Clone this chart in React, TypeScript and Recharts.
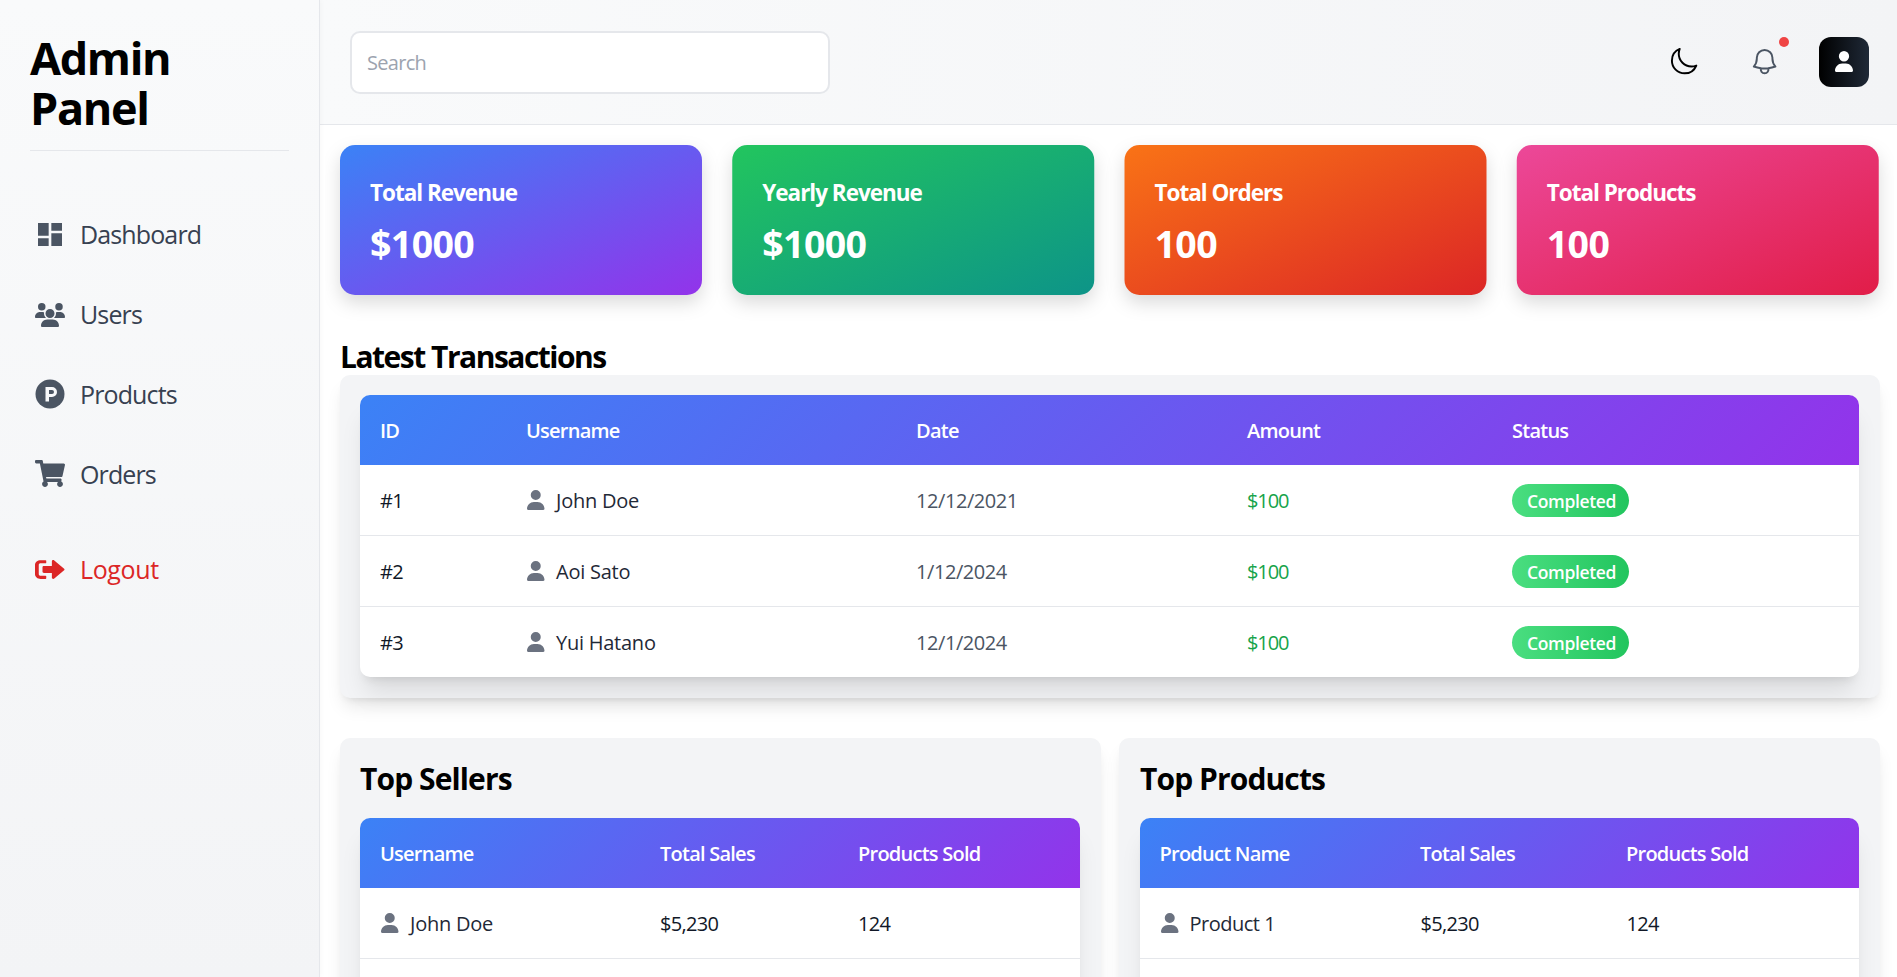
import { BarChart, Bar, XAxis, YAxis, Rectangle } from 'recharts'

const statLabels = ['Total Revenue', 'Yearly Revenue', 'Total Orders', 'Total Products']
const statValues = ['$1000', '$1000', '100', '100']
const statTiles = [1, 1, 1, 1]
const statData = statLabels.map((label, i) => ({ label, value: statValues[i], tile: statTiles[i] }))
const statGradients = [
  ['#3b82f6', '#9333ea'],
  ['#22c55e', '#0d9488'],
  ['#f97316', '#dc2626'],
  ['#ec4899', '#e11d48'],
]

const navItems = ['Dashboard', 'Users', 'Products', 'Orders']

const txHeaders = ['ID', 'Username', 'Date', 'Amount', 'Status']
const txIds = ['#1', '#2', '#3']
const txNames = ['John Doe', 'Aoi Sato', 'Yui Hatano']
const txDates = ['12/12/2021', '1/12/2024', '12/1/2024']
const txAmounts = ['$100', '$100', '$100']
const txStatus = ['Completed', 'Completed', 'Completed']

const sellerHeaders = ['Username', 'Total Sales', 'Products Sold']
const sellerNames = ['John Doe']
const productHeaders = ['Product Name', 'Total Sales', 'Products Sold']
const productNames = ['Product 1']
const topSales = ['$5,230']
const topSold = ['124']

const FONT = '"Open Sans", sans-serif'
const HEAD_GRADIENT = 'linear-gradient(135deg, #3b82f6, #9333ea)'

const PATHS = {
  user: 'M224 256A128 128 0 1 0 224 0a128 128 0 1 0 0 256zm-45.7 48C79.8 304 0 383.8 0 482.3C0 498.7 13.3 512 29.7 512H418.3c16.4 0 29.7-13.3 29.7-29.7C448 383.8 368.2 304 269.7 304H178.3z',
  users: 'M144 0a80 80 0 1 1 0 160A80 80 0 1 1 144 0zM512 0a80 80 0 1 1 0 160A80 80 0 1 1 512 0zM0 298.7C0 239.8 47.8 192 106.7 192h42.7c15.9 0 31 3.5 44.6 9.7c-1.3 7.2-1.9 14.7-1.9 22.3c0 38.2 16.8 72.5 43.3 96c-.2 0-.4 0-.7 0H21.3C9.6 320 0 310.4 0 298.7zM405.3 320c-.2 0-.4 0-.7 0c26.6-23.5 43.3-57.8 43.3-96c0-7.6-.7-15-1.9-22.3c13.6-6.3 28.7-9.7 44.6-9.7h42.7C592.2 192 640 239.8 640 298.7c0 11.8-9.6 21.3-21.3 21.3H405.3zM224 224a96 96 0 1 1 192 0 96 96 0 1 1 -192 0zM128 485.3C128 411.7 187.7 352 261.3 352H378.7C452.3 352 512 411.7 512 485.3c0 14.7-11.9 26.7-26.7 26.7H154.7c-14.7 0-26.7-11.9-26.7-26.7z',
  cart: 'M528.12 301.319l47.273-208C578.806 78.301 567.391 67 551.99 64H159.208l-9.166-44.81C147.758 8.021 137.93 0 126.529 0H24C10.745 0 0 10.745 0 24v16c0 13.255 10.745 24 24 24h69.883l70.248 343.435C147.325 417.1 136 435.222 136 456c0 30.928 25.072 56 56 56s56-25.072 56-56c0-15.674-6.447-29.835-16.824-40h209.647C430.447 426.165 424 440.326 424 456c0 30.928 25.072 56 56 56s56-25.072 56-56c0-22.172-12.888-41.332-31.579-50.405l5.517-24.276c3.413-15.018-8.002-29.319-23.403-29.319H218.117l-6.545-32h293.145c11.206 0 20.92-7.754 23.403-18.681z',
  logout: 'M497 273L329 441c-15 15-41 4.5-41-17v-96H152c-13.3 0-24-10.7-24-24v-96c0-13.3 10.7-24 24-24h136V88c0-21.4 25.9-32 41-17l168 168c9.3 9.4 9.3 24.6 0 34zM192 436v-40c0-6.6-5.4-12-12-12H96c-17.7 0-32-14.3-32-32V160c0-17.7 14.3-32 32-32h84c6.6 0 12-5.4 12-12V76c0-6.6-5.4-12-12-12H96c-53 0-96 43-96 96v192c0 53 43 96 96 96h84c6.6 0 12-5.4 12-12z',
  dashboard: 'M3 13h8V3H3v10zm0 8h8v-6H3v6zm10 0h8V11h-8v10zm0-18v6h8V3h-8z',
  moon: 'M21.752 15.002A9.72 9.72 0 0 1 18 15.75c-5.385 0-9.75-4.365-9.75-9.75 0-1.33.266-2.597.748-3.752A9.753 9.753 0 0 0 3 11.25C3 16.635 7.365 21 12.75 21a9.753 9.753 0 0 0 9.002-5.998Z',
  bell: 'M14.857 17.082a23.848 23.848 0 0 0 5.454-1.31A8.967 8.967 0 0 1 18 9.75V9A6 6 0 0 0 6 9v.75a8.967 8.967 0 0 1-2.312 6.022c1.733.64 3.56 1.085 5.455 1.31m5.714 0a24.255 24.255 0 0 1-5.714 0m5.714 0a3 3 0 1 1-5.714 0',
}

const Glyph = ({ d, box, x, y, w, h, fill }: any) => (
  <svg viewBox={box} width={w} height={h} preserveAspectRatio="none" style={{ position: 'absolute', left: x, top: y }}>
    <path d={d} fill={fill} fillRule="evenodd" />
  </svg>
)

const Outline = ({ d, x, y, stroke }: any) => (
  <svg viewBox="0 0 24 24" width={31.25} height={31.25} style={{ position: 'absolute', left: x, top: y }}>
    <path d={d} fill="none" stroke={stroke} strokeWidth={1.5} strokeLinecap="round" strokeLinejoin="round" />
  </svg>
)

// open sans runs wider than the original's font, so each kind of text gets its own tightening
const Label = ({ x, cy, size, weight, color, spacing = '-0.035em', children }: any) => (
  <div
    style={{
      position: 'absolute',
      left: x,
      top: cy - 30,
      height: 60,
      lineHeight: '60px',
      fontSize: size,
      fontWeight: weight,
      color,
      whiteSpace: 'nowrap',
      letterSpacing: spacing,
    }}
  >
    {children}
  </div>
)

const UserIcon = ({ x, cy }: any) => (
  <Glyph d={PATHS.user} box="0 0 448 512" x={x} y={cy - 10} w={17.5} h={20} fill="#6b7280" />
)

// one gradient tile with its two lines of text
const StatTile = (props: any) => {
  const { x, y, width, height, index, payload } = props
  return (
    <g>
      <defs>
        <linearGradient id={`tile-${index}`} x1="0" y1="0" x2="1" y2="1">
          <stop offset="0%" stopColor={statGradients[index][0]} />
          <stop offset="100%" stopColor={statGradients[index][1]} />
        </linearGradient>
      </defs>
      <Rectangle
        x={x}
        y={y}
        width={width}
        height={height}
        radius={15}
        fill={`url(#tile-${index})`}
        style={{ filter: 'drop-shadow(0 8px 9px rgba(0,0,0,0.14))' }}
      />
      <text x={x + 30} y={y + 56} fontSize={22.5} fontWeight={700} fill="#ffffff" style={{ letterSpacing: '-0.045em' }}>
        {payload.label}
      </text>
      <text x={x + 30} y={y + 113} fontSize={37.5} fontWeight={700} fill="#ffffff" style={{ letterSpacing: '-0.016em' }}>
        {payload.value}
      </text>
    </g>
  )
}

const Panel = ({ x, y, w, h }: any) => (
  <div
    style={{
      position: 'absolute',
      left: x,
      top: y,
      width: w,
      height: h,
      background: '#f3f4f6',
      borderRadius: 10,
      boxShadow: '0 12px 18px -4px rgba(0,0,0,0.1), 0 5px 8px -5px rgba(0,0,0,0.1)',
    }}
  />
)

const TableFrame = ({ x, y, w, h, headers, columns }: any) => (
  <div
    style={{
      position: 'absolute',
      left: x,
      top: y,
      width: w,
      height: h,
      background: '#ffffff',
      borderRadius: 10,
      boxShadow: '0 20px 25px -5px rgba(0,0,0,0.1), 0 8px 10px -6px rgba(0,0,0,0.1)',
    }}
  >
    <div style={{ position: 'absolute', left: 0, top: 0, width: w, height: 70, background: HEAD_GRADIENT, borderRadius: '10px 10px 0 0' }} />
    {headers.map((h: string, i: number) => (
      <Label key={h} x={columns[i]} cy={36} size={20} weight={600} color="#ffffff" spacing="-0.038em">
        {h}
      </Label>
    ))}
  </div>
)

const TX_COLS = [20, 166, 556, 887, 1152]
const TX_ROW_Y = [106, 177, 248]
const NAME_SPACING = '-0.012em'
const TITLE_SPACING = '-0.05em'

export default function App() {
  return (
    <div style={{ position: 'absolute', left: 0, top: 0, width: 1897, height: 977, overflow: 'hidden', background: '#ffffff', fontFamily: FONT }}>
      {/* header */}
      <div
        style={{
          position: 'absolute',
          left: 320,
          top: 0,
          width: 1577,
          height: 125,
          boxSizing: 'border-box',
          background: 'linear-gradient(to right, #f9fafb, #f3f4f6)',
          borderBottom: '1.5px solid #e5e7eb',
        }}
      />

      {/* sidebar */}
      <div
        style={{
          position: 'absolute',
          left: 0,
          top: 0,
          width: 320,
          height: 977,
          boxSizing: 'border-box',
          background: 'linear-gradient(to bottom, #f9fafb, #f3f4f6)',
          borderRight: '1px solid #e5e7eb',
          boxShadow: '1px 0 5px rgba(0,0,0,0.03)',
        }}
      >
        <div style={{ position: 'absolute', left: 30, top: 33, width: 200, fontSize: 45, lineHeight: '50px', fontWeight: 700, color: '#000', letterSpacing: '-0.03em' }}>
          Admin Panel
        </div>
        <div style={{ position: 'absolute', left: 30, top: 150, width: 259, height: 1, background: '#e5e7eb' }} />
        {navItems.map((item, i) => (
          <Label key={item} x={80} cy={234 + i * 80} size={25} weight={400} color="#374151">
            {item}
          </Label>
        ))}
        <Label x={80} cy={569} size={25} weight={400} color="#dc2626" spacing="-0.015em">
          Logout
        </Label>
        <Glyph d={PATHS.dashboard} box="3 3 18 18" x={38} y={223} w={24} h={23} fill="#4b5563" />
        <Glyph d={PATHS.users} box="0 0 640 512" x={35} y={303} w={30} h={24} fill="#4b5563" />
        <svg viewBox="0 0 30 30" width={30} height={30} style={{ position: 'absolute', left: 35, top: 379 }}>
          <circle cx={15} cy={15} r={14.5} fill="#4b5563" />
          <path d="M10.5 8h6.5a5 5 0 0 1 0 10h-3v4.5h-3.5zM14 11v4h3a2 2 0 0 0 0-4z" fill="#f8f9fb" fillRule="evenodd" />
        </svg>
        <Glyph d={PATHS.cart} box="0 0 576 512" x={35} y={460} w={30} h={27} fill="#4b5563" />
        <Glyph d={PATHS.logout} box="0 0 512 512" x={35} y={557} w={30} h={25} fill="#dc2626" />
      </div>

      <div
        style={{
          position: 'absolute',
          left: 350,
          top: 31,
          width: 480,
          height: 63,
          boxSizing: 'border-box',
          background: '#ffffff',
          border: '2.5px solid #e5e7eb',
          borderRadius: 10,
        }}
      />
      <Label x={367} cy={63} size={20} weight={400} color="#9ca3af">
        Search
      </Label>
      <Outline d={PATHS.moon} x={1668} y={46} stroke="#000000" />
      <Outline d={PATHS.bell} x={1748.5} y={46} stroke="#4b5563" />
      <div style={{ position: 'absolute', left: 1779, top: 37, width: 10, height: 10, borderRadius: 5, background: '#ef4444' }} />
      <div style={{ position: 'absolute', left: 1819, top: 37, width: 50, height: 50, borderRadius: 12, background: 'linear-gradient(to right, #000000, #1f2937)' }} />
      <Glyph d={PATHS.user} box="0 0 448 512" x={1835} y={51} w={18} h={21} fill="#ffffff" />

      {/* stat tiles */}
      <div style={{ position: 'absolute', left: 325, top: 135 }}>
        <BarChart width={1569} height={190} data={statData} margin={{ top: 10, right: 0, bottom: 30, left: 0 }} barCategoryGap={15}>
          <XAxis dataKey="label" hide />
          <YAxis hide domain={[0, 1]} />
          <Bar dataKey="tile" isAnimationActive={false} shape={StatTile} />
        </BarChart>
      </div>

      {/* latest transactions */}
      <Label x={340} cy={357} size={30} weight={700} color="#000000" spacing={TITLE_SPACING}>
        Latest Transactions
      </Label>
      <Panel x={340} y={375} w={1540} h={323} />
      <TableFrame x={360} y={395} w={1499} h={282} headers={txHeaders} columns={TX_COLS} />
      {txIds.map((id, i) => {
        const cy = 395 + TX_ROW_Y[i]
        return (
          <div key={id}>
            {i > 0 && <div style={{ position: 'absolute', left: 360, top: cy - 37, width: 1499, height: 1.25, background: '#e5e7eb' }} />}
            <Label x={380} cy={cy} size={20} weight={400} color="#111827">
              {id}
            </Label>
            <UserIcon x={527} cy={cy - 1} />
            <Label x={556} cy={cy} size={20} weight={400} color="#1f2937" spacing={NAME_SPACING}>
              {txNames[i]}
            </Label>
            <Label x={916} cy={cy} size={20} weight={400} color="#4b5563" spacing="-0.022em">
              {txDates[i]}
            </Label>
            <Label x={1247} cy={cy} size={20} weight={500} color="#16a34a" spacing="-0.055em">
              {txAmounts[i]}
            </Label>
            <div
              style={{
                position: 'absolute',
                left: 1512,
                top: cy - 17,
                width: 117,
                height: 33,
                borderRadius: 17,
                background: 'linear-gradient(to right, #4ade80, #22c55e)',
              }}
            />
            <Label x={1527} cy={cy} size={17.5} weight={600} color="#ffffff" spacing="-0.02em">
              {txStatus[i]}
            </Label>
          </div>
        )
      })}

      {/* top sellers */}
      <Panel x={340} y={738} w={761} h={300} />
      <Label x={360} cy={779} size={30} weight={700} color="#000000" spacing="-0.03em">
        Top Sellers
      </Label>
      <TableFrame x={360} y={818} w={720} h={220} headers={sellerHeaders} columns={[20, 300, 498]} />
      <div style={{ position: 'absolute', left: 360, top: 958, width: 720, height: 1.25, background: '#e5e7eb' }} />
      <UserIcon x={381} cy={923} />
      <Label x={410} cy={924} size={20} weight={400} color="#1f2937" spacing={NAME_SPACING}>
        {sellerNames[0]}
      </Label>
      <Label x={660} cy={924} size={20} weight={400} color="#111827">
        {topSales[0]}
      </Label>
      <Label x={858} cy={924} size={20} weight={400} color="#111827">
        {topSold[0]}
      </Label>

      {/* top products */}
      <Panel x={1119} y={738} w={761} h={300} />
      <Label x={1140} cy={779} size={30} weight={700} color="#000000" spacing="-0.03em">
        Top Products
      </Label>
      <TableFrame x={1140} y={818} w={719} h={220} headers={productHeaders} columns={[19.5, 280, 486]} />
      <div style={{ position: 'absolute', left: 1140, top: 958, width: 719, height: 1.25, background: '#e5e7eb' }} />
      <UserIcon x={1161} cy={923} />
      <Label x={1189.5} cy={924} size={20} weight={400} color="#1f2937" spacing="-0.025em">
        {productNames[0]}
      </Label>
      <Label x={1420.5} cy={924} size={20} weight={400} color="#111827">
        {topSales[0]}
      </Label>
      <Label x={1626.5} cy={924} size={20} weight={400} color="#111827">
        {topSold[0]}
      </Label>
    </div>
  )
}
